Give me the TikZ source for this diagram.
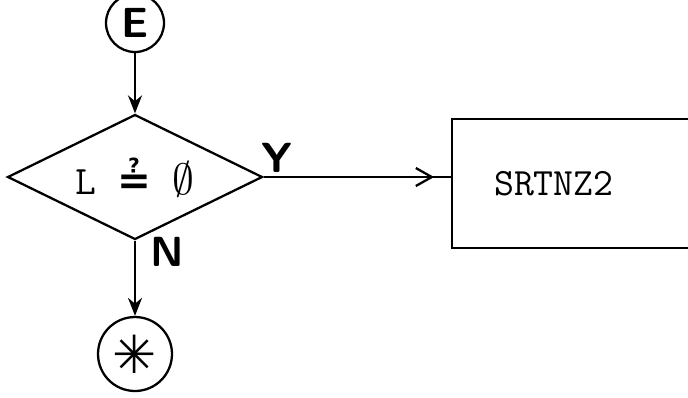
\documentclass[tikz,border=0pt]{standalone}
\usepackage{fontspec}
\newfontfamily\dejavu{DejaVu Sans}
\usetikzlibrary{shapes.geometric,arrows.meta,decorations.markings}
\begin{document}
\begin{tikzpicture}[x=0.02cm, y=-0.02cm, line width=1.3pt,
          every node/.style = {font=\fontsize{22}{26}\selectfont},
          hand/.style = {font=\fontsize{24}{28}\selectfont\sffamily\bfseries},
          connector/.style = {draw, shape=circle, inner sep=0pt},
          decision/.style = {draw, shape=diamond, shape aspect=2, inner sep=0pt,
            minimum width=5.1cm, minimum height=2.5cm,
            font=\fontsize{23}{26}\selectfont\ttfamily},
          subr/.style = {draw, shape=rectangle, anchor=west,
            minimum height=2.58cm, text width=5cm, inner xsep=0.84cm,
            font=\fontsize{22}{26}\selectfont\ttfamily},
          down/.style = {-{Stealth[length=0.36cm, width=0.28cm]}},
          yes/.style = {postaction=decorate, decoration={markings,
            mark=at position 0.91 with {\arrow{Straight Barb[length=0.32cm, width=0.36cm]}}}}]
          \useasboundingbox (0,0) rectangle (688,397);
          \clip (0,0) rectangle (688,397);
          \node[connector, hand, minimum size=1.16cm] (entry) at (135,23) {E};
          \node[decision] (test) at (135,177) {L\ {\dejavu\bfseries ≟}\ $\emptyset$};
          \node[subr] (srtnz) at (451,183.5) {SRTNZ2};
          \node[connector, minimum size=1.48cm] (exit) at (135,354) {\fontsize{30}{30}\selectfont\dejavu\bfseries ✳};
          \node[hand] (yes) at (277,158) {Y};
          \node[hand] (no) at (167,252) {N};
          \draw[down] (entry) -- (test);
          \draw[down] (test) -- (exit);
          \draw[yes] (test.east) -- (test.east -| srtnz.west);
        \end{tikzpicture}
\end{document}
